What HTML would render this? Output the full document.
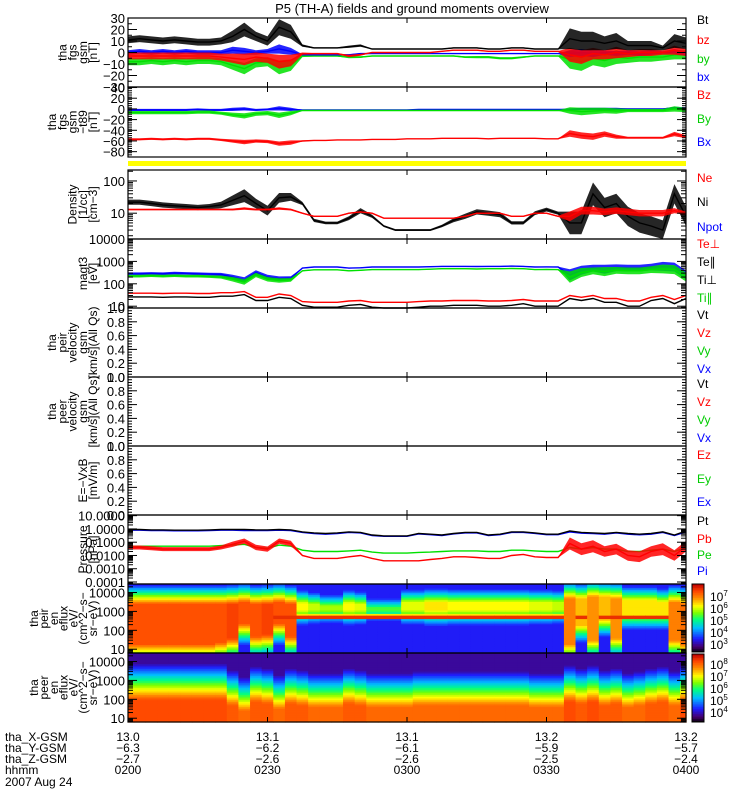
<!DOCTYPE html>
<html><head><meta charset="utf-8"><title>P5 (TH-A) overview</title>
<style>
html,body{margin:0;padding:0;background:#fff;}
svg{display:block;font-family:"Liberation Sans",sans-serif;}
text{font-family:"Liberation Sans",sans-serif;}
</style></head>
<body>
<svg id="chart" width="750" height="800" viewBox="0 0 750 800" xmlns="http://www.w3.org/2000/svg">
<rect x="0" y="0" width="750" height="800" fill="#fff"/>
<text x="412" y="13" font-size="13" text-anchor="middle">P5 (TH-A) fields and ground moments overview</text>
<rect x="128" y="161" width="558" height="5" fill="#ffff00"/>
<g id="layer"></g>
<g font-size="12">
<text x="5" y="741">tha_X-GSM</text>
<text x="5" y="752">tha_Y-GSM</text>
<text x="5" y="763">tha_Z-GSM</text>
<text x="5" y="774">hhmm</text>
<text x="5" y="786">2007 Aug 24</text>
</g>
</svg>
<script>
// ---------- data (sampled every 2.5 min from 02:00 to 04:00) ----------
const sampleMinutes = [0,2.5,5,7.5,10,12.5,15,17.5,20,22.5,25,27.5,30,32.5,35,37.5,40,42.5,45,47.5,50,52.5,55,57.5,60,62.5,65,67.5,70,72.5,75,77.5,80,82.5,85,87.5,90,92.5,95,97.5,100,102.5,105,107.5,110,112.5,115,117.5,120];
const timeTickLabels = ["0200","0230","0300","0330","0400"];
const timeTickMinutes = [0,30,60,90,120];
const xGsmLabels = ["13.0","13.1","13.1","13.2","13.2"];
const yGsmLabels = ["-6.3","-6.2","-6.1","-5.9","-5.7"];
const zGsmLabels = ["-2.7","-2.6","-2.6","-2.5","-2.4"];

const fgsBt = [11,12,11,10,11,10,9,9,10,14,20,14,10,22,18,6,4,4,4,5,6,3,3,3,3,3,3,3,4,4,4,3,3,4,4,3,3,3,12,10,10,8,10,6,6,6,4,10,8];
const fgsBtAmp = [3,3,3,3,3,3,3,3,3,5,6,4,4,7,6,1,0.5,0.5,0.5,1,1,0.3,0.3,0.3,0.3,0.3,0.3,0.3,0.5,0.5,0.5,0.3,0.3,0.5,0.5,0.3,0.3,0.3,9,8,8,6,7,4,4,4,2,6,5];
const fgsBz = [-3,-3,-3,-3,-3,-3,-3,-3,-4,-5,-6,-4,-5,-8,-7,-1,-1,-1,-1,-3,-2,0,0,0,0,0,0,1,2,2,2,1,1,2,2,1,1,1,-2,-4,-1,-2,0,-1,0,0,0,2,0];
const fgsBzAmp = [3,3,3,3,3,3,3,3,3,4,5,4,4,6,5,1,0.5,0.5,0.5,1,0.8,0.3,0.3,0.3,0.3,0.3,0.3,0.3,0.5,0.5,0.5,0.3,0.3,0.5,0.5,0.3,0.3,0.3,6,6,5,4,5,3,3,3,2,4,3];
const fgsBy = [-8,-8,-7,-8,-7,-8,-7,-7,-8,-11,-14,-9,-8,-13,-11,-3,-3,-3,-3,-4,-4,-3,-3,-3,-3,-3,-3,-3,-3,-4,-4,-4,-5,-5,-4,-3,-3,-3,-6,-8,-5,-7,-4,-5,-4,-4,-4,-2,-2];
const fgsByAmp = [3,3,3,3,3,3,3,3,3,4,5,4,4,6,5,1,0.5,0.5,0.5,1,0.8,0.3,0.3,0.3,0.3,0.3,0.3,0.3,0.5,0.8,1,1,1,1,0.8,0.3,0.3,0.3,8,8,6,6,6,4,4,4,3,4,4];
const fgsBx = [0,1,0,1,0,1,0,0,0,2,1,0,1,3,1,-2,-2,-2,-2,-2,-1,-1,-1,-1,-1,-1,-1,-1,-1,-1,-1,-1,-1,-1,-1,-1,-1,-1,-1,0,-1,0,-1,0,-1,0,0,1,-1];
const fgsBxAmp = [2,2,2,2,2,2,2,2,2,3,3,2,2,4,3,0.5,0.3,0.3,0.3,0.5,0.5,0.3,0.3,0.3,0.3,0.3,0.3,0.3,0.3,0.3,0.3,0.3,0.3,0.3,0.3,0.3,0.3,0.3,3,3,3,2,2,2,2,2,1,2,2];

const t89Bz = [-57,-57,-56,-57,-56,-57,-56,-56,-58,-60,-62,-60,-61,-65,-63,-60,-59,-59,-58,-58,-58,-57,-57,-57,-56,-56,-56,-55,-55,-55,-55,-56,-55,-55,-55,-55,-56,-56,-46,-50,-52,-47,-52,-54,-54,-54,-54,-47,-52];
const t89BzAmp = [2,2,2,2,2,2,2,2,2,3,4,3,3,4,4,1,0.5,0.5,0.5,0.5,0.5,0.5,0.5,0.5,0.5,0.5,0.5,0.5,0.5,0.5,0.5,0.5,0.5,0.5,0.5,0.5,0.5,0.5,6,6,6,5,4,2,2,2,2,4,3];
const t89By = [-7,-7,-7,-7,-7,-7,-6,-6,-8,-11,-13,-9,-8,-12,-8,-3,-3,-3,-3,-3,-3,-3,-3,-3,-3,-3,-3,-3,-3,-3,-3,-3,-3,-3,-3,-3,-3,-3,-3,-5,-4,-3,-4,-3,-3,-3,-3,0,-2];
const t89ByAmp = [3,3,3,3,3,3,3,3,3,4,5,4,4,5,4,1,0.5,0.5,0.5,0.5,0.5,0.5,0.5,0.5,0.5,0.5,0.5,0.5,0.5,0.5,0.5,0.5,0.5,0.5,0.5,0.5,0.5,0.5,6,7,6,5,5,3,3,3,3,5,4];
const t89Bx = [-2,-2,-2,-2,-2,-2,-1,-2,-2,-1,0,-2,-1,1,-1,-2,-2,-2,-2,-2,-2,-2,-2,-2,-2,-1,-1,-1,-1,-1,-1,-1,-1,-1,-1,-1,-1,-1,-1,0,0,0,0,0,0,0,0,2,1];
const t89BxAmp = [2,2,2,2,2,2,2,2,2,3,3,2,2,4,3,0.5,0.3,0.3,0.3,0.3,0.3,0.3,0.3,0.3,0.3,0.3,0.3,0.3,0.3,0.3,0.3,0.3,0.3,0.3,0.3,0.3,0.3,0.3,2,2,2,2,2,1,1,1,1,2,2];

const densNe = [13,13,13,13,13,13,13,13,13,13,14,13,13,14,13,10,8,8,8,10,11,10,7,7,7,7,7,7,7,8,10,10,10,8,8,10,10,8,8,12,12,11,12,11,10,10,10,12,10];
const densNeAmp = [0.02,0.02,0.02,0.02,0.02,0.02,0.02,0.02,0.02,0.03,0.04,0.03,0.03,0.04,0.03,0.02,0.02,0.02,0.02,0.02,0.02,0.02,0.02,0.02,0.02,0.02,0.02,0.02,0.02,0.02,0.02,0.02,0.02,0.02,0.02,0.02,0.02,0.02,0.15,0.12,0.12,0.1,0.1,0.1,0.1,0.1,0.1,0.08,0.05];
const densNi = [22,22,20,18,17,16,15,16,18,25,35,20,12,30,32,20,6,5,5,7,12,8,4,3,3,3,3,4,6,8,11,10,9,5,5,10,13,10,5,5,40,15,20,8,5,4,3,40,8];
const densNiAmp = [0.08,0.08,0.08,0.08,0.08,0.08,0.08,0.08,0.1,0.15,0.2,0.15,0.15,0.15,0.12,0.05,0.05,0.04,0.04,0.06,0.08,0.05,0.03,0.03,0.03,0.03,0.03,0.04,0.06,0.08,0.08,0.08,0.08,0.05,0.05,0.06,0.06,0.05,0.35,0.35,0.35,0.3,0.3,0.3,0.3,0.3,0.3,0.3,0.3];

const tempTiPerp = [280,280,290,280,300,290,280,270,260,200,150,320,200,170,180,500,560,560,560,500,520,560,560,560,560,560,580,600,600,600,590,600,600,620,600,560,570,560,250,400,500,450,520,500,500,560,600,560,250];
const tempTiPar = [220,220,230,220,230,220,220,210,200,160,120,250,160,140,150,380,420,420,420,380,400,430,430,430,430,430,450,470,470,470,460,470,470,480,470,430,440,430,200,320,380,350,400,380,380,430,460,430,200];
const tempTePerp = [38,38,38,37,38,38,37,37,40,40,45,25,25,35,30,16,15,15,15,17,18,15,15,15,15,16,17,17,18,18,18,17,17,18,20,17,17,17,30,25,30,22,22,17,17,25,30,20,30];
const tempTePar = [26,26,26,25,26,26,25,25,28,28,33,18,18,25,22,11,9,9,9,11,12,9,8,8,8,9,10,10,11,11,11,10,10,11,13,10,10,10,22,18,22,15,15,10,10,18,22,13,22];
const tempTiAmp = [0.06,0.06,0.06,0.06,0.06,0.06,0.06,0.06,0.07,0.1,0.12,0.1,0.1,0.1,0.08,0.02,0.02,0.02,0.02,0.02,0.02,0.02,0.02,0.02,0.02,0.02,0.02,0.02,0.02,0.02,0.02,0.02,0.02,0.02,0.02,0.02,0.02,0.02,0.25,0.2,0.15,0.2,0.15,0.15,0.15,0.15,0.2,0.2,0.2];

const presPt = [0.9,0.9,0.85,0.85,0.8,0.8,0.8,0.85,0.9,0.9,0.9,0.85,0.85,0.9,0.85,0.6,0.5,0.45,0.5,0.6,0.55,0.35,0.3,0.3,0.3,0.45,0.4,0.35,0.45,0.55,0.55,0.35,0.4,0.6,0.6,0.5,0.4,0.4,0.7,0.55,0.5,0.45,0.55,0.45,0.4,0.45,0.6,0.35,0.7];
const presPi = [0.8,0.8,0.75,0.75,0.72,0.72,0.72,0.76,0.8,0.8,0.75,0.75,0.75,0.8,0.75,0.55,0.45,0.4,0.45,0.55,0.5,0.32,0.28,0.28,0.28,0.42,0.37,0.32,0.42,0.5,0.5,0.32,0.37,0.55,0.55,0.46,0.37,0.37,0.6,0.48,0.45,0.4,0.5,0.4,0.36,0.4,0.55,0.32,0.6];
const presPe = [0.05,0.05,0.05,0.05,0.05,0.05,0.05,0.05,0.055,0.06,0.07,0.04,0.035,0.06,0.05,0.025,0.02,0.02,0.02,0.022,0.025,0.018,0.015,0.015,0.015,0.017,0.018,0.02,0.022,0.022,0.022,0.02,0.02,0.025,0.025,0.022,0.02,0.02,0.04,0.03,0.04,0.03,0.03,0.02,0.02,0.025,0.03,0.02,0.04];
const presPb = [0.04,0.04,0.035,0.03,0.03,0.03,0.03,0.03,0.04,0.07,0.12,0.04,0.03,0.12,0.08,0.01,0.006,0.006,0.006,0.008,0.01,0.006,0.004,0.004,0.004,0.004,0.005,0.006,0.008,0.008,0.007,0.006,0.006,0.01,0.012,0.008,0.007,0.007,0.08,0.03,0.05,0.02,0.03,0.01,0.008,0.02,0.03,0.01,0.05];
const presPbAmp = [0.15,0.15,0.15,0.15,0.15,0.15,0.15,0.15,0.15,0.2,0.2,0.2,0.2,0.2,0.2,0.05,0.03,0.03,0.03,0.03,0.03,0.02,0.02,0.02,0.02,0.02,0.02,0.02,0.03,0.03,0.03,0.02,0.02,0.03,0.03,0.02,0.02,0.02,0.45,0.45,0.45,0.4,0.4,0.4,0.4,0.4,0.45,0.4,0.4];

// ion spectrogram (log10 energy edges of hot plasma, log10 eflux level, cold band flag)
const ionLo = [1.3,1.3,1.3,1.3,1.3,1.3,1.3,1.3,1.4,1.6,2.4,1.7,1.8,2.4,1.7,3.1,3.1,3.1,3.1,3.1,3.1,3.1,3.1,3.1,3.1,3.1,3.1,3.1,3.1,3.1,3.1,3.1,3.1,3.1,3.1,3.1,3.1,3.1,1.3,2.3,1.5,2.6,1.6,2.9,2.9,2.9,2.9,1.5,1.3];
const ionHi = [3.4,3.4,3.4,3.4,3.4,3.4,3.4,3.4,3.4,3.4,3.5,3.4,3.4,3.5,3.4,3.45,3.4,3.3,3.3,3.45,3.4,3.2,3.2,3.2,3.5,3.5,3.5,3.5,3.5,3.5,3.5,3.5,3.5,3.5,3.5,3.5,3.5,3.5,3.7,3.7,3.8,3.8,3.7,3.6,3.6,3.6,3.5,3.5,3.4];
const ionLevel = [6.8,6.8,6.8,6.8,6.8,6.8,6.8,6.8,6.8,6.9,6.8,6.8,6.9,6.8,6.8,5.9,5.7,5.6,5.6,5.9,5.8,5.3,5.3,5.3,5.8,5.8,6.0,6.0,5.9,5.9,5.9,5.9,5.9,5.9,5.9,5.8,5.8,5.7,6.5,6.2,6.4,6.2,6.4,6.0,6.0,6.0,6.0,6.5,6.6];
const ionBand = [0,0,0,0,0,0,0,0,0,0,0,0,0,1,1,1,1,1,1,1,1,1,1,1,1,1,1,1,1,1,1,1,1,1,1,1,1,1,0,1,0,1,1,1,1,1,1,0,0];
// electron spectrogram (log10 energy where flux rolls off, log10 eflux level)
const eleHi = [2.0,2.0,2.0,2.0,2.0,2.0,2.0,2.0,2.0,1.7,1.4,1.9,1.8,1.5,1.8,1.7,1.6,1.6,1.6,1.8,1.7,1.6,1.6,1.6,1.6,1.7,1.7,1.7,1.7,1.7,1.7,1.7,1.7,1.7,1.7,1.6,1.6,1.6,1.9,1.8,1.9,1.7,1.8,1.6,1.7,1.8,1.9,1.7,1.9];
const eleLevel = [7.9,7.9,7.9,7.9,7.9,7.9,7.9,7.9,7.9,7.8,7.7,7.8,7.8,7.7,7.8,7.8,7.7,7.7,7.7,7.8,7.8,7.7,7.7,7.7,7.7,7.7,7.7,7.7,7.7,7.7,7.7,7.7,7.7,7.7,7.7,7.7,7.7,7.7,7.9,7.8,7.9,7.8,7.8,7.7,7.7,7.8,7.8,7.7,7.9];

// ---------- layout ----------
const NS = "http://www.w3.org/2000/svg";
const svg = document.getElementById("chart");
const layer = document.getElementById("layer");
const X0 = 128, X1 = 686;
function xScale(t){ return X0 + t/120*(X1-X0); }
function mk(tag, parent){ const e = document.createElementNS(NS, tag); (parent||layer).appendChild(e); return e; }
function linScale(top,bot,vmin,vmax){ return v => bot - (v-vmin)/(vmax-vmin)*(bot-top); }
function logScale(top,bot,lmin,lmax){ return v => bot - (Math.log10(v)-lmin)/(lmax-lmin)*(bot-top); }

const panels = [
 {key:"fgs-gsm", top:18, bot:87, lin:[-30,30], ticks:[30,20,10,0,-10,-20,-30], labs:["30","20","10","0","\u221210","\u221220","\u221230"], minor:2},
 {key:"fgs-t89", top:87, bot:157, lin:[-90,41], ticks:[40,20,0,-20,-40,-60,-80], labs:["40","20","0","\u221220","\u221240","\u221260","\u221280"], minor:5},
 {key:"density", top:170, bot:239, log:[0.2,2.34], ticks:[100,10], labs:["100","10"]},
 {key:"temperature", top:239, bot:308, log:[0.92,4.0], ticks:[10000,1000,100,10], labs:["10000","1000","100","10"]},
 {key:"peir-velocity", top:308, bot:377, lin:[0,1], ticks:[1,0.8,0.6,0.4,0.2,0], labs:["1.0","0.8","0.6","0.4","0.2","0.0"], minor:5},
 {key:"peer-velocity", top:377, bot:446, lin:[0,1], ticks:[1,0.8,0.6,0.4,0.2,0], labs:["1.0","0.8","0.6","0.4","0.2","0.0"], minor:5},
 {key:"efield", top:446, bot:515, lin:[0,1], ticks:[1,0.8,0.6,0.4,0.2,0], labs:["1.0","0.8","0.6","0.4","0.2","0.0"], minor:5},
 {key:"pressure", top:515, bot:584, log:[-4.15,1.05], ticks:[10,1,0.1,0.01,0.001,0.0001], labs:["10.0000","1.0000","0.1000","0.0100","0.0010","0.0001"]},
 {key:"ion-spectrogram", top:584, bot:653, log:[0.8,4.45], ticks:[10000,1000,100,10], labs:["10000","1000","100","10"]},
 {key:"electron-spectrogram", top:653, bot:722, log:[0.8,4.45], ticks:[10000,1000,100,10], labs:["10000","1000","100","10"]}
];
panels.forEach(p => { p.y = p.lin ? linScale(p.top,p.bot,p.lin[0],p.lin[1]) : logScale(p.top,p.bot,p.log[0],p.log[1]); });

const titles = {
 "fgs-gsm":["tha","fgs","gsm","[nT]"],
 "fgs-t89":["tha","fgs","gsm","\u2212t89","[nT]"],
 "density":["Density","[1/cc]","[cm\u22123]"],
 "temperature":["magt3","[eV]"],
 "peir-velocity":["tha","peir","velocity","gsm","[km/s](All Qs)"],
 "peer-velocity":["tha","peer","velocity","gsm","[km/s](All Qs)"],
 "efield":["E=\u2212VxB","[mV/m]"],
 "pressure":["Pressure","[nPa]"],
 "ion-spectrogram":["tha","peir","en","eflux","eV/","(cm^2\u2212s\u2212","sr\u2212eV)"],
 "electron-spectrogram":["tha","peer","en","eflux","eV/","(cm^2\u2212s\u2212","sr\u2212eV)"]
};
const legends = {
 "fgs-gsm":[["Bt","#000",24],["bz","#f00",44],["by","#0c0",63],["bx","#00f",81]],
 "fgs-t89":[["Bz","#f00",99],["By","#0c0",123],["Bx","#00f",146]],
 "density":[["Ne","#f00",182],["Ni","#000",206],["Npot","#00f",231]],
 "temperature":[["Te\u22a5","#f00",248],["Te\u2225","#000",266],["Ti\u22a5","#000",284],["Ti\u2225","#0c0",302]],
 "peir-velocity":[["Vt","#000",319],["Vz","#f00",337],["Vy","#0c0",355],["Vx","#00f",373]],
 "peer-velocity":[["Vt","#000",388],["Vz","#f00",406],["Vy","#0c0",424],["Vx","#00f",442]],
 "efield":[["Ez","#f00",459],["Ey","#0c0",483],["Ex","#00f",506]],
 "pressure":[["Pt","#000",525],["Pb","#f00",543],["Pe","#0c0",559],["Pi","#00f",575]]
};

// ---------- colormap ----------
const cstops = [[0,[0,0,0]],[0.08,[70,0,110]],[0.2,[30,30,255]],[0.36,[0,190,255]],[0.48,[0,255,130]],[0.58,[120,255,0]],[0.68,[255,255,0]],[0.8,[255,140,0]],[0.9,[255,70,0]],[1,[190,0,0]]];
function cmap(f){
  f = Math.max(0,Math.min(1,f));
  for(let i=1;i<cstops.length;i++){
    if(f<=cstops[i][0]){ const a=cstops[i-1],b=cstops[i]; const u=(f-a[0])/(b[0]-a[0]);
      const c=a[1].map((v,k)=>Math.round(v+(b[1][k]-v)*u)); return `rgb(${c[0]},${c[1]},${c[2]})`; }
  }
  return "rgb(190,0,0)";
}

// ---------- spectrograms ----------
function drawSpec(p, name, valueAt, vmin, vmax){
  const g = mk("g");  
  const nRows = 40; const lmin=p.log[0], lmax=p.log[1];
  sampleMinutes.forEach((t,i)=>{
    const t0 = Math.max(0,t-1.25), t1 = Math.min(120,t+1.25);
    const xa = xScale(t0), xb = xScale(t1);
    for(let r=0;r<nRows;r++){
      const e = lmin + (r+0.5)/nRows*(lmax-lmin);
      const v = valueAt(i,e);
      const ya = p.bot - (r+1)/nRows*(p.bot-p.top), yb = p.bot - r/nRows*(p.bot-p.top);
      const c = mk("rect", g);
      
      
      c.setAttribute("x", xa.toFixed(2)); c.setAttribute("y", ya.toFixed(2));
      c.setAttribute("width", (xb-xa+0.6).toFixed(2)); c.setAttribute("height", (yb-ya+0.6).toFixed(2));
      c.setAttribute("fill", cmap((v-vmin)/(vmax-vmin)));
    }
  });
}
drawSpec(panels[8], "ion-energy-spectrogram", (i,e)=>{
  let v = ionLevel[i];
  if(e<ionLo[i]) v -= (ionLo[i]-e)*2.6;
  if(e>ionHi[i]) v -= (e-ionHi[i])*3.0;
  if(ionBand[i] && Math.abs(e-2.74)<0.09) v = Math.max(v, 7.0);
  else if(ionBand[i] && Math.abs(e-2.74)<0.16) v = Math.max(v, 6.0);
  return Math.max(v, 3.75);
}, 2.9, 7.3);
drawSpec(panels[9], "electron-energy-spectrogram", (i,e)=>{
  let v = eleLevel[i];
  if(e>eleHi[i]) v -= (e-eleHi[i])*1.9;
  return Math.max(v, 4.25);
}, 3.7, 8.4);

// ---------- series ----------
function series(p, name, vals, amps, color, isLog){
  const g = mk("g");  
  const n = Math.min(sampleMinutes.length, vals.length);
  if(amps){
    const up=[], dn=[];
    for(let i=0;i<n;i++){
      const a = amps[i]||0; const x = xScale(sampleMinutes[i]);
      const hi = isLog ? vals[i]*Math.pow(10,a) : vals[i]+a;
      const lo = isLog ? vals[i]/Math.pow(10,a) : vals[i]-a;
      up.push(x.toFixed(1)+","+Math.max(p.top,p.y(hi)).toFixed(1));
      dn.unshift(x.toFixed(1)+","+Math.min(p.bot,p.y(lo)).toFixed(1));
    }
    const band = mk("polygon", g);
    
    
    band.setAttribute("points", up.concat(dn).join(" ")); band.setAttribute("fill", color); band.setAttribute("opacity","0.85");
  }
  const pts=[];
  for(let i=0;i<n;i++){ pts.push(xScale(sampleMinutes[i]).toFixed(1)+","+Math.max(p.top,Math.min(p.bot,p.y(vals[i]))).toFixed(1)); }
  const l = mk("polyline", g);
  
  
  l.setAttribute("points", pts.join(" ")); l.setAttribute("fill","none"); l.setAttribute("stroke", color); l.setAttribute("stroke-width","1.4");
}
series(panels[0],"by-gsm",fgsBy,fgsByAmp,"#00e000",false);
series(panels[0],"bx-gsm",fgsBx,fgsBxAmp,"#0000ff",false);
series(panels[0],"bz-gsm",fgsBz,fgsBzAmp,"#ff0000",false);
series(panels[0],"bt-gsm",fgsBt,fgsBtAmp,"#000000",false);
series(panels[1],"bx-t89",t89Bx,t89BxAmp,"#0000ff",false);
series(panels[1],"by-t89",t89By,t89ByAmp,"#00e000",false);
series(panels[1],"bz-t89",t89Bz,t89BzAmp,"#ff0000",false);
series(panels[2],"ni-density",densNi,densNiAmp,"#000000",true);
series(panels[2],"ne-density",densNe,densNeAmp,"#ff0000",true);
series(panels[3],"ti-perp",tempTiPerp,tempTiAmp,"#0000ff",true);
series(panels[3],"ti-par",tempTiPar,tempTiAmp,"#00e000",true);
series(panels[3],"te-par",tempTePar,null,"#000000",true);
series(panels[3],"te-perp",tempTePerp,null,"#ff0000",true);
series(panels[7],"pe-pressure",presPe,null,"#00e000",true);
series(panels[7],"pb-pressure",presPb,presPbAmp,"#ff0000",true);
series(panels[7],"pi-pressure",presPi,null,"#0000ff",true);
series(panels[7],"pt-pressure",presPt,null,"#000000",true);

// ---------- axes, ticks, titles, legends ----------
panels.forEach(p=>{
  const g = mk("g");  
  const fr = mk("rect", g);
  
  
  fr.setAttribute("x",X0); fr.setAttribute("y",p.top); fr.setAttribute("width",X1-X0); fr.setAttribute("height",p.bot-p.top);
  fr.setAttribute("fill","none"); fr.setAttribute("stroke","#000"); fr.setAttribute("stroke-width","1.2");
  function tick(y,len){
    [[X0,X0+len],[X1,X1-len]].forEach(([a,b])=>{ const l=mk("line",g); l.setAttribute("x1",a); l.setAttribute("x2",b); l.setAttribute("y1",y); l.setAttribute("y2",y); l.setAttribute("stroke","#000"); l.setAttribute("stroke-width","1"); });
  }
  p.ticks.forEach((v,i)=>{
    const y = p.y(v); tick(y,9);
    const tx = mk("text", g);
    
    
    tx.setAttribute("x", 125); tx.setAttribute("y", (y+5).toFixed(1)); tx.setAttribute("font-size","13"); tx.setAttribute("text-anchor","end");
    tx.textContent = p.labs[i];
  });
  if(p.lin && p.minor){
    const step = (p.ticks[0]-p.ticks[1])/p.minor;
    for(let v=p.lin[0]; v<=p.lin[1]+1e-9; v+=step){ const y=p.y(v); if(y>=p.top && y<=p.bot) tick(y,4); }
  }
  if(p.log){
    for(let d=Math.floor(p.log[0]); d<=Math.ceil(p.log[1]); d++){
      for(let m=2;m<=9;m++){ const v=m*Math.pow(10,d); const y=p.y(v); if(y>p.top+0.5 && y<p.bot-0.5) tick(y,5); }
    }
  }
  timeTickMinutes.forEach(t=>{ const x=xScale(t); [[p.top,p.top+5],[p.bot,p.bot-5]].forEach(([a,b])=>{ const l=mk("line",g); l.setAttribute("x1",x); l.setAttribute("x2",x); l.setAttribute("y1",a); l.setAttribute("y2",b); l.setAttribute("stroke","#000"); }); });
  const lines = titles[p.key]; const mid=(p.top+p.bot)/2;
  const tg = mk("g");  
  const sp = lines.length>5 ? 9.8 : 10.2;
  lines.forEach((s,i)=>{
    const bx = 97 - (lines.length-1-i)*sp;
    const t = mk("text", tg); t.setAttribute("font-size","12"); t.setAttribute("text-anchor","middle");
    t.setAttribute("transform",`translate(${bx.toFixed(1)},${mid}) rotate(-90)`); t.textContent = s;
  });
  (legends[p.key]||[]).forEach(([s,c,y])=>{
    const t = mk("text");
    
    
    t.setAttribute("x",697); t.setAttribute("y",y); t.setAttribute("font-size","12"); t.setAttribute("fill",c); t.textContent=s;
  });
});

// ---------- colorbars ----------
function colorbar(top,bot,name,labs){
  const g = mk("g");  
  const n=40;
  for(let i=0;i<n;i++){
    const r = mk("rect", g);
    r.setAttribute("x",692); r.setAttribute("width",12);
    r.setAttribute("y",(bot-(i+1)*(bot-top)/n).toFixed(2)); r.setAttribute("height",((bot-top)/n+0.5).toFixed(2));
    r.setAttribute("fill",cmap((i+0.5)/n));
  }
  const f=mk("rect",g); f.setAttribute("x",692); f.setAttribute("y",top); f.setAttribute("width",12); f.setAttribute("height",bot-top); f.setAttribute("fill","none"); f.setAttribute("stroke","#000");
  labs.forEach(([e,y])=>{
    const t=mk("text",g); t.setAttribute("x",710); t.setAttribute("y",y); t.setAttribute("font-size","12");
    t.textContent="10";
    const s=mk("tspan",t); s.setAttribute("dy","-5"); s.setAttribute("font-size","8"); s.textContent=e;
  });
}
colorbar(584,652,"ion-colorbar",[["7",601],["6",613],["5",625],["4",637],["3",649]]);
colorbar(654,722,"electron-colorbar",[["8",669],["7",681],["6",693],["5",705],["4",717]]);

// ---------- time axis labels ----------
const rowsLab = [xGsmLabels,yGsmLabels,zGsmLabels,timeTickLabels];
rowsLab.forEach((arr,r)=>{
  arr.forEach((s,i)=>{
    const t=mk("text");
    
    
    t.setAttribute("x", xScale(timeTickMinutes[i]).toFixed(1)); t.setAttribute("y", 741+r*11); t.setAttribute("font-size","12"); t.setAttribute("text-anchor","middle");
    t.textContent = s.replace("-","\u2212");
  });
});
</script>
</body></html>
